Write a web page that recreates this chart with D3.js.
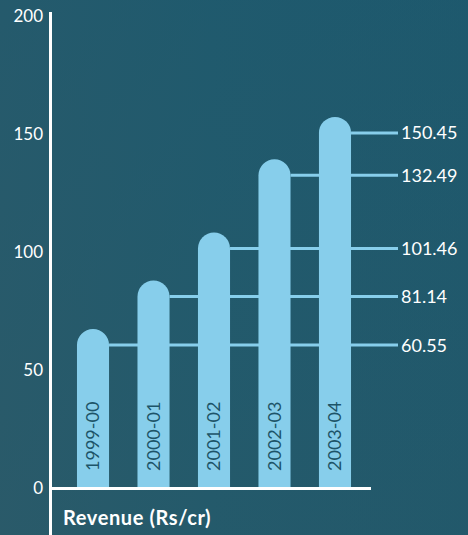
<!DOCTYPE html>
<html><head><meta charset="utf-8">
<script src="https://cdn.jsdelivr.net/npm/d3@7"></script>
<style>
html,body{margin:0;padding:0;background:#23596b;}
svg{display:block;}
</style></head>
<body>
<svg id="chart" width="468" height="535"></svg>
<script>
const categories = ["1999-00","2000-01","2001-02","2002-03","2003-04"];
const revenue = [60.55, 81.14, 101.46, 132.49, 150.45];
const valueLabels = ["60.55","81.14","101.46","132.49","150.45"];
const yTicks = [0, 50, 100, 150, 200];
const axisTitle = "Revenue (Rs/cr)";

const W = 468, H = 535;
const svg = d3.select("#chart");
const font = "Lato, 'Open Sans', sans-serif";

// background
const defs = svg.append("defs");
const g1 = defs.append("linearGradient").attr("id","bg").attr("x1","0").attr("y1","0").attr("x2","1").attr("y2","0");
g1.append("stop").attr("offset","0").attr("stop-color","#2a5a6a");
g1.append("stop").attr("offset","0.45").attr("stop-color","#225a6c");
g1.append("stop").attr("offset","1").attr("stop-color","#1f586c");
svg.append("rect").attr("width",W).attr("height",H).attr("fill","url(#bg)");
const g2 = defs.append("linearGradient").attr("id","bg2").attr("x1","0").attr("y1","0").attr("x2","0").attr("y2","1");
g2.append("stop").attr("offset","0").attr("stop-color","#1b5a70").attr("stop-opacity",0.35);
g2.append("stop").attr("offset","1").attr("stop-color","#2a5a68").attr("stop-opacity",0.3);
svg.append("rect").attr("width",W).attr("height",H).attr("fill","url(#bg2)");

const y = d3.scaleLinear().domain([0,200]).range([488,16]);
const x = d3.scaleBand().domain(categories).range([50,378]).paddingInner(0.47).paddingOuter(0.446);
const bw = x.bandwidth();
const r = bw/2;
const lineEnd = 398;
const barColor = "#87ceeb";

// reference lines (behind bars)
svg.append("g").selectAll("line").data(revenue).join("line")
  .attr("x1",(d,i)=>x(categories[i]) + bw)
  .attr("x2",lineEnd)
  .attr("y1",d=>y(d)).attr("y2",d=>y(d))
  .attr("stroke",barColor).attr("stroke-width",3);

// value labels
svg.append("g").selectAll("text").data(revenue).join("text")
  .attr("x",lineEnd+3)
  .attr("y",d=>y(d))
  .attr("dy","0.36em")
  .attr("fill","#ffffff")
  .attr("font-family",font)
  .attr("font-size",18)
  .text((d,i)=>valueLabels[i]);

// bars with rounded caps
const bars = svg.append("g");
bars.selectAll("path").data(revenue).join("path")
  .attr("fill",barColor)
  .attr("d",(d,i)=>{
    const x0 = x(categories[i]), x1 = x0 + bw, yt = y(d), yb = y(0);
    return `M${x0},${yb}L${x0},${yt}A${r},${r} 0 0 1 ${x1},${yt}L${x1},${yb}Z`;
  });

// category labels rotated
svg.append("g").selectAll("text").data(categories).join("text")
  .attr("transform",d=>`translate(${x(d)+bw/2},471) rotate(-90)`)
  .attr("dy","0.36em")
  .attr("fill","#1d5468")
  .attr("font-family",font)
  .attr("font-size",18)
  .text(d=>d);

// axes
svg.append("line").attr("x1",50.5).attr("x2",50.5).attr("y1",12).attr("y2",H)
  .attr("stroke","#fff").attr("stroke-width",3);
svg.append("line").attr("x1",50).attr("x2",371).attr("y1",488.5).attr("y2",488.5)
  .attr("stroke","#fff").attr("stroke-width",3);

const yAxis = d3.axisLeft(y).tickValues(yTicks).tickSize(0).tickPadding(0).tickFormat(d3.format("d"));
const ya = svg.append("g").attr("transform","translate(43,0)").call(yAxis);
ya.select(".domain").remove();
ya.selectAll("text").attr("fill","#fff").attr("font-family",font).attr("font-size",17);

svg.append("text").attr("x",63).attr("y",525)
  .attr("fill","#fff").attr("font-family",font).attr("font-weight","bold").attr("font-size",20)
  .attr("letter-spacing",0.6)
  .text(axisTitle);
</script>
</body></html>
